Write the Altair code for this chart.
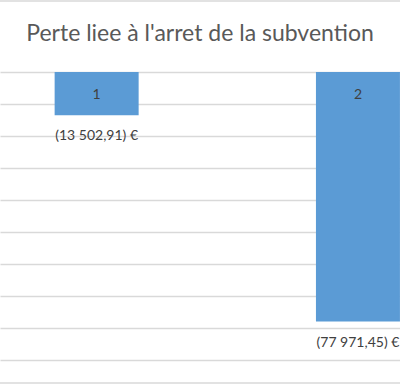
import altair as alt
import pandas as pd

title_text = ["Perte liee à l'arret de la subvention"]
categories = [1, 2]
inside_labels = ["1", "2"]
values = [-13502.91, -77971.45]
value_labels = ["(13 502,91) €", "(77 971,45) €"]
grid_values = [0, -10000, -20000, -30000, -40000, -50000, -60000, -70000, -80000, -90000]

df = pd.DataFrame({"cat": categories, "value": values, "inside": inside_labels, "label": value_labels})
tdf = pd.DataFrame({"t": title_text})

FONT = "Lato"
xenc = alt.X("cat:Q", scale=alt.Scale(domain=[0.6493, 2.1418], nice=False, zero=False), axis=None)
yscale = alt.Scale(domain=[-97500, 22500], nice=False, zero=False)

bars = alt.Chart(df).mark_bar(size=84, color="#5B9BD5", clip=True).encode(
    x=xenc,
    y=alt.Y("value:Q", scale=yscale,
            axis=alt.Axis(values=grid_values, grid=True, gridColor="#d9d9d9", gridWidth=1.5,
                          labels=False, ticks=False, domain=False, title=None)),
    y2=alt.datum(0),
)

inside = alt.Chart(df).mark_text(dy=23, baseline="middle", fontSize=14, color="#404040", font=FONT).encode(
    x=xenc, y=alt.datum(0), text="inside:N")

vlabels = alt.Chart(df).mark_text(dy=21, baseline="middle", fontSize=14, color="#404040", font=FONT).encode(
    x=xenc, y=alt.Y("value:Q", scale=yscale), text="label:N")

borders = alt.Chart(tdf).mark_rule(color="#d9d9d9", strokeWidth=1.5).encode(y=alt.value(1)) + \
    alt.Chart(tdf).mark_rule(color="#d9d9d9", strokeWidth=1.5).encode(y=alt.value(383))

title = alt.Chart(tdf).mark_text(fontSize=23, color="#595959", font=FONT, baseline="middle").encode(
    x=alt.value(200), y=alt.value(34), text="t:N")

chart = alt.layer(bars, inside, vlabels, borders, title).properties(
    width=400, height=384, autosize=alt.AutoSizeParams(type="none"), padding=0
).configure_view(stroke=None)

chart.save("out.html", embed_options={"renderer": "svg", "actions": False})
